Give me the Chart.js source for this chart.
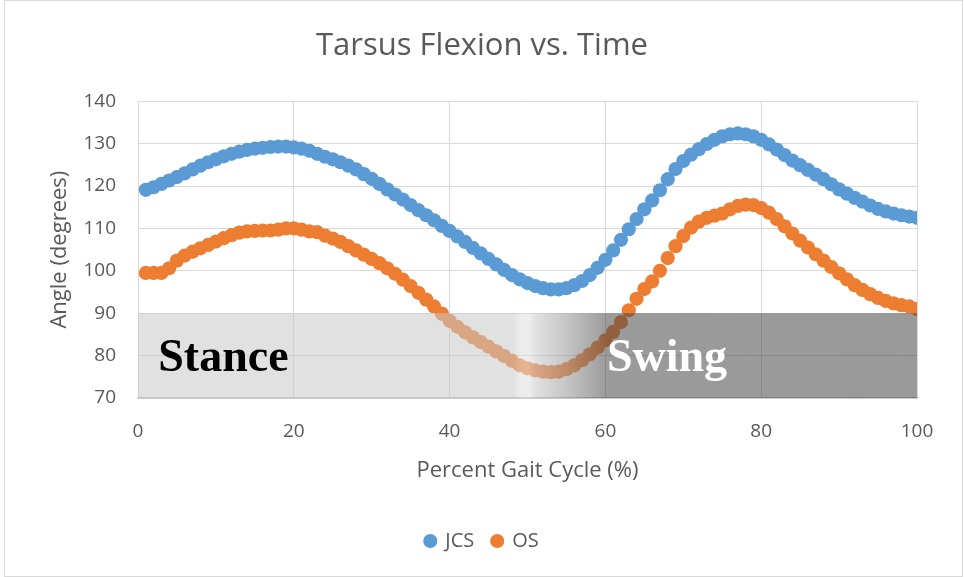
<!DOCTYPE html>
<html>
<head>
<meta charset="utf-8">
<script src="https://cdn.jsdelivr.net/npm/chart.js@4"></script>
<style>
  html, body { margin: 0; padding: 0; background: #fff; }
  #wrap { width: 964px; height: 577px; position: relative; }
</style>
</head>
<body>
<div id="wrap"><canvas id="gait" width="964" height="577"></canvas></div>
<script>
// percent of gait cycle (x)
var pct = [1,2,3,4,5,6,7,8,9,10,11,12,13,14,15,16,17,18,19,20,
  21,22,23,24,25,26,27,28,29,30,31,32,33,34,35,36,37,38,39,40,
  41,42,43,44,45,46,47,48,49,50,51,52,53,54,55,56,57,58,59,60,
  61,62,63,64,65,66,67,68,69,70,71,72,73,74,75,76,77,78,79,80,
  81,82,83,84,85,86,87,88,89,90,91,92,93,94,95,96,97,98,99,100]

// tarsus angle, joint coordinate system
var jcs = [119.1,119.7,120.5,121.3,122.1,123.0,123.9,124.8,125.6,126.3,
  127.0,127.6,128.1,128.5,128.8,129.0,129.2,129.3,129.3,129.1,
  128.8,128.3,127.6,126.9,126.3,125.6,124.8,123.9,122.8,121.7,
  120.5,119.2,118.0,116.8,115.5,114.3,113.1,111.9,110.6,109.4,
  108.1,106.8,105.4,104.1,102.8,101.5,100.2,99.0,98.0,97.1,
  96.4,95.9,95.6,95.6,95.9,96.6,97.6,99.0,100.7,102.6,
  104.8,107.3,109.8,112.2,114.5,116.6,119.0,121.6,124.0,125.9,
  127.4,128.7,129.9,130.9,131.7,132.2,132.4,132.2,131.7,130.9,
  129.8,128.6,127.3,126.0,124.9,123.8,122.7,121.6,120.4,119.2,
  118.2,117.2,116.3,115.4,114.6,114.0,113.5,113.1,112.8,112.5]

// tarsus angle, other system
var os = [99.5,99.5,99.5,100.6,102.4,103.6,104.5,105.3,106.1,106.9,
  107.7,108.4,109.0,109.3,109.4,109.5,109.5,109.7,110.0,110.0,
  109.7,109.3,109.1,108.3,107.6,106.8,105.8,104.8,103.8,102.8,
  101.8,100.6,99.3,97.9,96.4,94.8,93.2,91.6,89.9,88.2,
  86.8,85.5,84.3,83.2,82.1,81.0,79.9,78.8,77.7,77.0,
  76.5,76.2,76.1,76.2,76.8,77.7,78.9,80.3,81.9,83.6,
  85.6,87.9,90.7,93.4,95.7,97.5,100.0,103.0,105.8,108.2,
  110.2,111.6,112.5,113.0,113.5,114.5,115.3,115.6,115.5,114.8,
  113.7,112.2,110.5,108.8,107.1,105.5,103.9,102.4,100.9,99.4,
  98.0,96.6,95.5,94.5,93.6,92.9,92.3,91.9,91.6,91.0]

var seriesNames = ["JCS", "OS"]
var seriesColors = ["#5B9BD5", "#ED7D31"]
var xTicks = [0, 20, 40, 60, 80, 100]
var yTicks = [70, 80, 90, 100, 110, 120, 130, 140]

// phase bands: [fromX, toX, label]
var stance = [0, 48.3, "Stance"]
var swing = [48.3, 100, "Swing"]
var phaseTop = 90

var txt = "#595959"
var fam = "'Open Sans', sans-serif"

function toPoints(ys){
  return pct.map(function(x, i){ return {x: x, y: ys[i]} })
}

// draws the stance / swing boxes over the markers
var phasePlugin = {
  id: "phases",
  afterDatasetsDraw: function(chart){
    var ctx = chart.ctx, xs = chart.scales.x, ys = chart.scales.y
    var top = ys.getPixelForValue(phaseTop), bot = ys.getPixelForValue(yTicks[0])
    var sx0 = xs.getPixelForValue(stance[0]), sx1 = xs.getPixelForValue(stance[1])
    var wx1 = xs.getPixelForValue(swing[1])
    ctx.save()
    ctx.globalAlpha = 0.55
    ctx.fillStyle = "rgb(200,200,200)"
    ctx.fillRect(sx0, top, sx1 - sx0, bot - top)
    var g = ctx.createLinearGradient(sx1, 0, wx1, 0)
    var span = wx1 - sx1
    var at = function(v){ return (xs.getPixelForValue(v) - sx1) / span }
    g.addColorStop(0, "rgb(205,205,205)")
    g.addColorStop(at(49.2), "rgb(222,222,222)")
    g.addColorStop(at(50.2), "rgb(222,222,222)")
    g.addColorStop(at(51), "rgb(200,200,200)")
    g.addColorStop(at(55), "rgb(150,150,150)")
    g.addColorStop(at(60.2), "rgb(72,72,72)")
    g.addColorStop(1, "rgb(70,70,70)")
    ctx.fillStyle = g
    ctx.fillRect(sx1, top, wx1 - sx1, bot - top)
    ctx.globalAlpha = 1
    ctx.font = "bold 46px 'Liberation Serif', 'Times New Roman', serif"
    ctx.textBaseline = "alphabetic"
    ctx.textAlign = "left"
    ctx.fillStyle = "#000"
    ctx.fillText(stance[2], xs.getPixelForValue(2.6), ys.getPixelForValue(76.3))
    ctx.fillStyle = "#fff"
    ctx.fillText(swing[2], xs.getPixelForValue(60.2), ys.getPixelForValue(76.3))
    ctx.restore()
  }
}

// thin frame round the whole chart
var framePlugin = {
  id: "frame",
  afterDraw: function(chart){
    var ctx = chart.ctx
    ctx.save()
    ctx.strokeStyle = "#D9D9D9"
    ctx.lineWidth = 1
    ctx.strokeRect(4.5, 0.5, chart.width - 6, chart.height - 1)
    ctx.restore()
  }
}

var chartGait = new Chart(document.getElementById("gait").getContext("2d"), {
  type: "scatter",
  data: {
    datasets: [
      {
        label: seriesNames[0],
        data: toPoints(jcs),
        backgroundColor: seriesColors[0],
        borderColor: seriesColors[0],
        pointRadius: 7.1,
        pointBorderWidth: 0,
        pointHoverRadius: 7.1
      },
      {
        label: seriesNames[1],
        data: toPoints(os),
        backgroundColor: seriesColors[1],
        borderColor: seriesColors[1],
        pointRadius: 7.1,
        pointBorderWidth: 0,
        pointHoverRadius: 7.1
      }
    ]
  },
  options: {
    responsive: false,
    animation: false,
    layout: { padding: { left: 0, right: 0, top: 0, bottom: 16 } },
    plugins: {
      title: {
        display: true,
        text: "Tarsus Flexion vs. Time",
        color: txt,
        font: { family: fam, size: 31, weight: "normal" },
        padding: { top: 28, bottom: 36 }
      },
      legend: {
        display: true,
        position: "bottom",
        labels: {
          usePointStyle: true,
          pointStyle: "circle",
          boxWidth: 10,
          boxHeight: 10,
          padding: 18,
          color: txt,
          font: { family: fam, size: 20 }
        }
      },
      tooltip: { enabled: false }
    },
    scales: {
      x: {
        type: "linear",
        min: xTicks[0],
        max: xTicks[xTicks.length - 1],
        afterBuildTicks: function(s){ s.ticks = xTicks.map(function(v){ return {value: v} }) },
        afterFit: function(s){ s.height = 115 },
        grid: { color: "#D9D9D9", drawTicks: false },
        border: { color: "#BFBFBF", width: 1.5 },
        ticks: { color: txt, padding: 22, font: { family: fam, size: 19 } },
        title: {
          display: true,
          text: "Percent Gait Cycle (%)",
          color: txt,
          font: { family: fam, size: 22 },
          padding: { top: 0, bottom: 29 }
        }
      },
      y: {
        type: "linear",
        min: yTicks[0],
        max: yTicks[yTicks.length - 1],
        afterBuildTicks: function(s){ s.ticks = yTicks.map(function(v){ return {value: v} }) },
        afterFit: function(s){ s.width = 138 },
        grid: { color: "#D9D9D9", drawTicks: false },
        border: { display: false },
        ticks: { color: txt, padding: 22, font: { family: fam, size: 19 } },
        title: {
          display: true,
          text: "Angle (degrees)",
          color: txt,
          font: { family: fam, size: 22 },
          padding: { top: 47, bottom: 0 }
        }
      },
      // empty right-hand strip so the plot ends where the reference does
      yRight: {
        type: "linear",
        position: "right",
        display: true,
        min: 0,
        max: 1,
        afterFit: function(s){ s.width = 47 },
        grid: { display: false, drawTicks: false },
        border: { display: false },
        ticks: { display: false }
      }
    }
  },
  plugins: [phasePlugin, framePlugin]
})
</script>
</body>
</html>
